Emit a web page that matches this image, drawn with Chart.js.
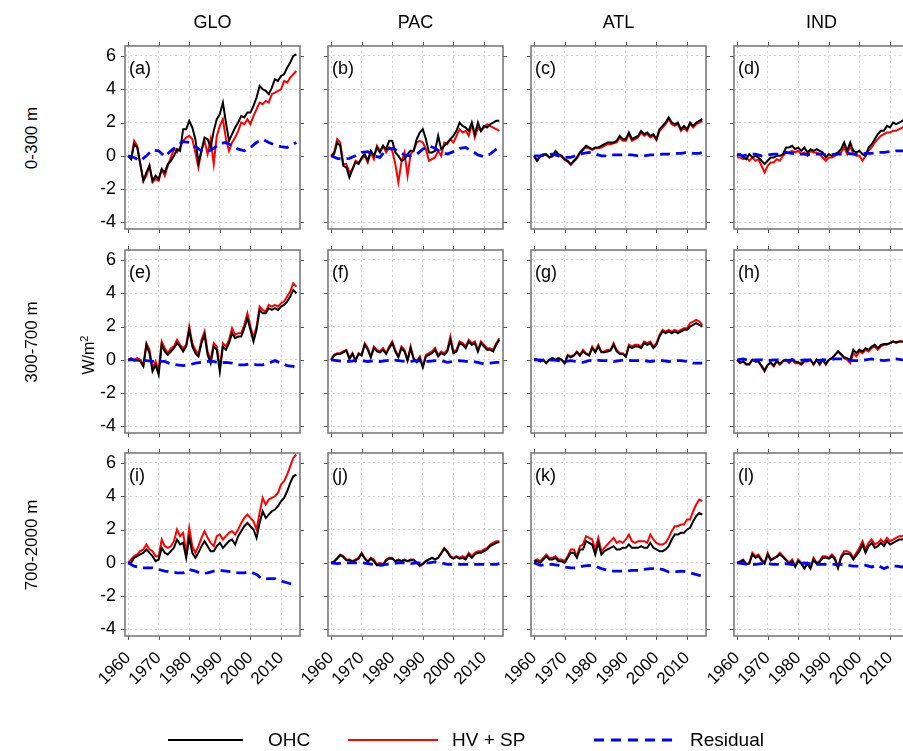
<!DOCTYPE html>
<html><head><meta charset="utf-8">
<script src="https://cdn.jsdelivr.net/npm/chart.js@4.4.1/dist/chart.umd.min.js"></script>
<style>
html,body{margin:0;padding:0;background:#fff;}
body{width:903px;height:751px;overflow:hidden;position:relative;font-family:"Liberation Sans",Arial,sans-serif;color:#000;}
.cv{position:absolute;}
.plab{position:absolute;font-size:18px;white-space:nowrap;line-height:22px;}
.rot{position:absolute;transform:translate(-50%,-50%) rotate(-90deg);font-size:17px;white-space:nowrap;}
.ttl{position:absolute;transform:translate(-50%,-50%);font-size:18px;white-space:nowrap;}
.leg{position:absolute;font-size:19px;white-space:nowrap;transform:translateY(-50%);}
svg{position:absolute;left:0;top:0;}
</style></head><body>
<script>
const YEARS = [1960,1961,1962,1963,1964,1965,1966,1967,1968,1969,1970,1971,1972,1973,1974,1975,1976,1977,1978,1979,1980,1981,1982,1983,1984,1985,1986,1987,1988,1989,1990,1991,1992,1993,1994,1995,1996,1997,1998,1999,2000,2001,2002,2003,2004,2005,2006,2007,2008,2009,2010,2011,2012,2013,2014,2015];
const RES_YEARS = [1960,1962,1964,1966,1968,1970,1972,1974,1976,1978,1980,1982,1984,1986,1988,1990,1992,1994,1996,1998,2000,2002,2004,2006,2008,2010,2012,2014,2015];
const X_TICKS = [1960,1970,1980,1990,2000,2010];
const Y_TICKS = [-4,-2,0,2,4,6];
const COLUMNS = ['GLO','PAC','ATL','IND'];
const ROWS = ['0-300 m','300-700 m','700-2000 m'];
const PANEL_LABELS = ['(a)','(b)','(c)','(d)','(e)','(f)','(g)','(h)','(i)','(j)','(k)','(l)'];
const LEGEND = ['OHC','HV + SP','Residual'];

// (a) GLO 0-300
const OHC_A = [0.0,-0.2,0.7,0.5,-0.5,-1.5,-1.0,-0.6,-1.5,-1.2,-1.4,-0.8,-1.0,-0.5,-0.3,0.0,0.4,0.3,1.6,1.6,2.1,1.7,1.0,-0.4,0.3,1.1,1.0,0.5,1.5,2.2,2.5,3.2,2.0,0.9,1.3,1.7,2.0,2.4,2.3,2.6,2.6,3.0,3.5,4.2,4.0,3.9,3.7,4.1,4.6,4.5,4.8,4.9,5.3,5.6,6.0,6.1];
const HVSP_A = [0.0,-0.2,0.9,0.6,-0.5,-1.5,-1.2,-0.6,-1.6,-1.4,-1.5,-0.8,-1.2,-0.6,-0.1,0.4,0.2,0.5,0.9,1.1,1.2,1.0,0.2,-0.7,0.3,0.9,0.1,1.0,-0.5,1.2,1.8,2.2,1.0,0.3,0.8,1.1,1.5,2.0,1.9,2.2,1.9,2.4,2.8,3.2,3.1,3.3,3.2,3.7,3.8,3.9,4.0,4.5,4.4,4.7,4.9,5.1];
const RES_A = [0,-0.1,-0.3,0.0,0.35,0.3,-0.05,0.3,0.6,0.85,0.8,0.55,0.3,0.25,0.45,0.75,0.8,0.6,0.4,0.3,0.5,0.8,1.0,0.8,0.65,0.55,0.5,0.7,0.8];
// (b) PAC 0-300
const OHC_B = [0.0,0.1,0.8,0.6,-0.6,-0.7,-1.3,-0.8,-0.4,-0.5,-0.1,0.1,-0.3,0.3,0.0,0.5,0.2,0.6,0.4,0.9,0.9,0.2,0.0,-0.3,-0.2,0.1,0.3,0.3,1.0,1.4,1.6,1.0,0.2,0.2,0.3,1.2,0.4,0.6,0.8,1.0,1.2,1.5,2.0,1.8,1.7,1.5,2.0,1.3,2.0,1.5,1.8,1.7,1.9,2.0,2.1,2.1];
const HVSP_B = [0.0,0.2,1.0,0.8,-0.5,-0.5,-1.0,-0.8,-0.3,-0.4,-0.2,0.0,-0.4,0.2,-0.2,0.6,0.3,0.6,0.2,0.5,0.3,-0.5,-1.6,-0.4,0.2,-1.2,0.1,0.3,0.8,0.9,0.8,0.4,-0.3,-0.2,-0.1,0.3,0.0,0.8,0.7,1.0,0.8,1.2,1.6,1.4,1.5,1.2,1.9,1.1,1.7,1.5,1.7,1.9,1.8,1.7,1.6,1.5];
const RES_B = [0,-0.15,-0.2,-0.15,0.0,0.2,0.25,0.0,-0.1,0.4,0.45,0.3,0.05,0.0,0.1,0.4,0.6,0.45,0.2,0.1,0.25,0.45,0.5,0.3,0.05,-0.05,0.1,0.4,0.5];
// (c) ATL 0-300
const OHC_C = [0.0,-0.3,0.0,0.1,0.1,-0.1,0.0,0.3,0.1,0.0,-0.2,-0.3,-0.5,-0.3,-0.1,0.2,0.4,0.6,0.5,0.4,0.5,0.5,0.6,0.7,0.8,0.8,0.8,0.9,1.2,1.0,1.0,1.4,1.0,1.1,1.2,1.5,1.3,1.4,1.2,1.3,1.0,1.6,1.8,2.0,2.3,2.0,1.9,2.0,1.6,1.8,1.6,2.0,1.8,2.0,2.1,2.2];
const HVSP_C = [-0.05,-0.3,-0.05,0.05,0.05,-0.1,-0.05,0.2,0.05,-0.05,-0.25,-0.35,-0.55,-0.35,-0.15,0.15,0.35,0.5,0.45,0.35,0.45,0.45,0.5,0.6,0.7,0.7,0.75,0.8,1.1,0.9,0.9,1.3,0.9,1.0,1.1,1.4,1.2,1.3,1.1,1.2,0.95,1.5,1.7,1.9,2.2,1.9,1.8,1.9,1.5,1.7,1.5,1.9,1.7,1.9,2.0,2.1];
const RES_C = [0,0.0,0.05,0.1,0.0,-0.1,-0.1,0.05,0.15,0.2,0.1,0.0,0.0,0.05,0.05,0.05,0.05,0.0,0.0,0.05,0.05,0.1,0.1,0.15,0.15,0.2,0.15,0.15,0.2];
// (d) IND 0-300
const OHC_D = [0.0,0.1,-0.1,-0.2,0.1,-0.1,0.0,-0.1,-0.3,-0.5,-0.3,-0.1,-0.1,0.0,0.0,0.1,0.5,0.5,0.6,0.4,0.5,0.3,0.5,0.2,0.4,0.3,0.4,0.3,0.2,-0.1,0.1,0.0,0.1,0.2,0.4,0.8,0.3,0.8,0.3,0.2,0.3,0.1,0.0,0.5,0.7,1.0,1.3,1.5,1.5,1.8,1.7,2.0,1.9,2.0,2.1,2.2];
const HVSP_D = [-0.1,-0.1,-0.2,-0.1,-0.3,-0.1,-0.3,-0.2,-0.6,-1.0,-0.6,-0.4,-0.4,-0.2,-0.3,0.0,0.2,0.2,0.3,0.2,0.3,0.1,0.2,0.0,0.3,0.2,0.2,0.1,-0.1,-0.3,-0.1,-0.1,0.0,0.1,0.2,0.5,0.1,0.6,0.1,0.0,0.0,-0.3,0.0,0.3,0.5,0.8,1.0,1.2,1.3,1.4,1.4,1.5,1.5,1.6,1.7,1.8];
const RES_D = [0.1,0.0,0.1,0.1,0.0,0.05,0.1,0.1,0.2,0.15,0.1,0.1,0.05,0.1,0.1,0.05,0.1,0.1,0.15,0.1,0.1,0.15,0.15,0.2,0.2,0.25,0.3,0.3,0.3];
// (e) GLO 300-700
const OHC_E = [0.0,0.05,-0.05,0.0,-0.1,-0.4,0.9,0.4,-0.7,-0.3,-0.9,0.9,0.5,0.3,0.5,0.7,1.0,0.8,0.5,0.8,1.8,0.8,0.4,0.2,1.0,1.5,0.3,-0.2,0.8,0.6,-0.7,0.8,0.6,1.0,1.6,1.3,1.4,1.4,1.9,2.5,1.8,1.1,1.8,3.0,2.8,2.8,3.1,3.0,3.1,3.0,3.2,3.3,3.5,3.8,4.2,4.0];
const HVSP_E = [0.0,0.1,0.0,0.1,0.0,-0.3,1.0,0.6,-0.5,-0.1,-0.6,1.1,0.7,0.4,0.7,0.8,1.2,0.9,0.7,0.9,2.0,1.0,0.6,0.3,1.2,1.7,0.5,0.0,1.0,0.8,-0.5,1.0,0.8,1.2,1.9,1.5,1.6,1.6,2.1,2.8,2.0,1.3,2.0,3.2,3.0,2.9,3.3,3.2,3.3,3.2,3.4,3.5,3.8,4.1,4.6,4.4];
const RES_E = [0,0.0,-0.05,-0.05,-0.1,-0.1,-0.1,-0.25,-0.3,-0.35,-0.3,-0.2,-0.15,-0.1,-0.1,-0.2,-0.15,-0.2,-0.3,-0.3,-0.25,-0.3,-0.3,-0.2,-0.05,-0.2,-0.35,-0.4,-0.45];
// (f) PAC 300-700
const OHC_F = [0.0,0.25,0.35,0.35,0.45,0.55,0.05,0.35,-0.05,0.35,0.25,0.9,0.6,0.15,0.7,0.5,0.45,0.6,0.35,0.7,1.0,0.5,0.15,0.7,0.5,-0.05,0.7,0.05,-0.15,0.1,-0.45,0.2,0.3,0.4,0.6,0.2,0.4,0.3,0.5,1.2,0.4,0.5,1.0,0.9,0.7,1.1,0.9,1.0,0.5,1.0,0.8,0.6,0.6,0.5,0.9,1.2];
const HVSP_F = [0.0,0.3,0.4,0.4,0.5,0.6,0.1,0.4,0.0,0.4,0.3,1.0,0.7,0.2,0.8,0.6,0.5,0.7,0.4,0.8,1.1,0.6,0.2,0.8,0.6,0.0,0.8,0.1,-0.1,0.2,-0.4,0.3,0.4,0.5,0.7,0.3,0.5,0.4,0.6,1.4,0.5,0.6,1.1,1.0,0.8,1.2,1.0,1.1,0.6,1.1,0.9,0.7,0.7,0.6,1.0,1.3];
const RES_F = [0,-0.05,-0.1,-0.1,-0.05,-0.05,-0.1,-0.05,-0.1,-0.05,0.0,-0.05,-0.1,-0.1,-0.05,-0.1,-0.1,-0.05,-0.05,-0.15,-0.1,-0.05,-0.1,-0.1,-0.15,-0.25,-0.2,-0.15,-0.15];
// (g) ATL 300-700
const OHC_G = [0.05,0.0,-0.1,0.0,-0.2,0.0,0.1,0.0,0.1,0.0,-0.2,0.25,0.15,0.25,0.45,0.25,0.5,0.35,0.25,0.7,0.45,0.8,0.45,0.45,0.5,0.55,0.9,0.5,0.35,0.35,0.2,0.8,0.7,0.8,0.8,0.7,1.0,0.9,1.0,0.7,0.9,1.4,1.7,1.6,1.7,1.6,1.7,1.6,1.7,1.8,1.8,2.0,2.1,2.2,2.1,2.0];
const HVSP_G = [0.05,0.0,-0.1,0.0,-0.2,0.0,0.1,0.0,0.1,0.0,-0.2,0.3,0.2,0.3,0.5,0.3,0.6,0.4,0.3,0.8,0.5,0.9,0.5,0.5,0.6,0.6,1.0,0.6,0.4,0.4,0.2,0.9,0.8,0.9,0.9,0.8,1.1,1.0,1.1,0.8,1.0,1.5,1.8,1.7,1.8,1.7,1.8,1.7,1.8,1.9,1.9,2.2,2.3,2.4,2.3,2.1];
const RES_G = [0,0.0,-0.05,0.0,-0.05,-0.1,-0.05,-0.1,-0.15,-0.05,0.0,-0.05,-0.05,-0.1,-0.05,0.0,-0.05,-0.05,-0.05,-0.1,-0.05,-0.05,-0.1,-0.05,-0.05,-0.1,-0.2,-0.2,-0.2];
// (h) IND 300-700
const OHC_H = [0.0,-0.15,-0.1,-0.25,-0.25,0.0,-0.1,-0.1,-0.35,-0.65,-0.3,-0.15,-0.35,-0.05,-0.25,-0.05,0.0,-0.1,0.05,-0.1,-0.15,-0.25,-0.05,-0.05,0.0,-0.25,0.0,-0.25,0.0,-0.25,0.0,0.1,0.3,0.5,0.35,0.15,0.1,0.0,0.6,0.4,0.6,0.5,0.7,0.6,0.8,0.9,0.7,0.9,0.95,0.95,1.0,1.1,1.05,1.1,1.1,1.1];
const HVSP_H = [0.0,-0.2,-0.1,-0.3,-0.3,0.0,-0.1,-0.1,-0.4,-0.7,-0.3,-0.2,-0.4,-0.1,-0.3,-0.1,0.0,-0.2,0.0,-0.2,-0.2,-0.3,-0.1,-0.1,0.0,-0.3,0.0,-0.3,0.0,-0.3,0.0,0.1,0.3,0.5,0.3,0.1,0.0,-0.2,0.4,0.2,0.5,0.4,0.6,0.5,0.7,0.8,0.6,0.8,0.9,0.9,1.0,1.1,1.0,1.1,1.1,1.1];
const RES_H = [0.0,0.05,-0.05,0.0,0.0,-0.05,0.0,0.0,-0.05,0.0,-0.05,0.0,0.0,-0.05,0.0,0.0,0.05,0.05,0.0,-0.05,-0.05,0.0,0.05,0.0,-0.05,0.0,0.05,0.0,0.0];
// (i) GLO 700-2000
const OHC_I = [0.0,0.0,0.3,0.4,0.5,0.6,0.8,0.6,0.4,0.1,0.2,0.9,0.6,0.5,0.7,0.9,1.4,1.1,1.2,0.3,1.5,0.6,0.3,0.6,1.0,1.3,1.0,0.7,0.7,1.0,1.2,0.9,1.1,1.3,1.4,1.1,1.6,1.9,2.2,2.4,2.2,2.0,1.5,2.4,3.1,2.7,2.9,3.1,3.2,3.4,3.7,3.9,4.3,4.8,5.2,5.3];
const HVSP_I = [0.0,0.2,0.4,0.5,0.7,0.8,1.1,0.8,0.7,0.4,0.4,1.4,1.0,0.9,1.0,1.3,2.0,1.6,1.8,0.6,2.1,1.0,0.6,1.0,1.5,1.9,1.5,1.2,1.0,1.6,1.7,1.4,1.6,1.8,1.9,1.7,2.0,2.4,2.7,2.9,2.7,2.5,2.0,3.0,3.9,3.5,3.8,3.9,4.0,4.2,4.7,4.9,5.3,5.8,6.3,6.5];
const RES_I = [0,-0.2,-0.3,-0.3,-0.3,-0.4,-0.5,-0.55,-0.6,-0.6,-0.4,-0.5,-0.65,-0.6,-0.5,-0.45,-0.5,-0.55,-0.6,-0.6,-0.55,-0.7,-1.0,-0.95,-0.95,-1.1,-1.2,-1.3,-1.35];
// (j) PAC 700-2000
const OHC_J = [0.0,0.05,0.25,0.45,0.35,0.15,0.15,0.05,0.15,0.25,0.55,0.25,0.05,0.25,0.1,-0.15,-0.1,-0.15,0.15,0.25,0.25,0.1,0.15,0.1,0.15,0.1,0.15,0.15,0.0,-0.15,-0.05,0.1,0.2,0.3,0.2,0.3,0.55,0.85,0.65,0.35,0.25,0.35,0.25,0.3,0.2,0.5,0.3,0.5,0.6,0.6,0.7,0.8,1.0,1.1,1.2,1.25];
const HVSP_J = [0.0,0.1,0.3,0.5,0.4,0.2,0.2,0.1,0.2,0.3,0.6,0.3,0.1,0.3,0.2,-0.1,0.0,-0.1,0.2,0.3,0.3,0.1,0.2,0.1,0.2,0.1,0.2,0.2,0.0,-0.2,-0.1,0.1,0.2,0.3,0.2,0.3,0.6,0.9,0.7,0.4,0.3,0.4,0.3,0.4,0.3,0.6,0.4,0.6,0.7,0.7,0.8,0.9,1.1,1.2,1.3,1.3];
const RES_J = [0,-0.05,0.0,0.0,0.0,0.0,-0.05,-0.1,-0.15,-0.1,-0.05,0.0,0.0,-0.05,0.0,0.0,0.0,0.05,0.0,-0.1,-0.1,-0.1,-0.1,-0.1,-0.1,-0.1,-0.1,-0.1,-0.05];
// (k) ATL 700-2000
const OHC_K = [0.1,0.1,0.0,0.2,0.4,0.2,0.2,0.3,0.1,0.1,0.0,0.3,0.6,0.6,0.3,0.8,0.8,1.3,1.2,1.1,0.5,1.2,0.5,0.7,0.8,0.9,1.0,0.8,0.8,0.9,0.9,1.1,0.9,0.9,0.9,1.0,0.9,0.9,1.2,0.9,0.8,0.7,0.7,0.8,1.0,1.4,1.7,1.7,1.8,1.8,2.0,2.1,2.5,2.8,3.0,2.9];
const HVSP_K = [0.1,0.2,0.1,0.3,0.5,0.3,0.3,0.4,0.2,0.2,0.1,0.4,0.8,0.8,0.4,1.0,1.1,1.6,1.5,1.4,0.8,1.5,0.7,0.9,1.1,1.3,1.5,1.2,1.3,1.2,1.4,1.7,1.3,1.2,1.3,1.3,1.3,1.2,1.7,1.4,1.2,1.1,1.1,1.2,1.5,1.9,2.2,2.2,2.3,2.3,2.6,2.6,3.1,3.5,3.8,3.7];
const RES_K = [0,-0.15,-0.1,-0.1,-0.15,-0.25,-0.3,-0.3,-0.2,-0.15,-0.2,-0.35,-0.45,-0.5,-0.5,-0.5,-0.45,-0.45,-0.4,-0.35,-0.35,-0.4,-0.55,-0.55,-0.5,-0.55,-0.65,-0.75,-0.8];
// (l) IND 700-2000
const OHC_L = [0.0,0.05,0.15,-0.1,-0.05,0.5,0.3,0.4,0.15,-0.05,0.5,0.15,0.25,0.35,0.5,0.35,0.15,-0.05,0.1,-0.25,0.1,-0.05,-0.35,-0.05,-0.35,0.2,-0.05,0.05,0.3,0.3,0.25,0.4,0.2,-0.3,0.3,0.55,0.55,0.5,0.2,0.45,0.7,1.1,0.6,1.0,1.2,0.9,1.0,1.2,1.0,1.3,1.1,1.2,1.3,1.4,1.4,1.5];
const HVSP_L = [0.0,0.1,0.2,-0.1,0.0,0.6,0.4,0.5,0.2,0.0,0.6,0.2,0.3,0.4,0.6,0.4,0.2,0.0,0.2,-0.2,0.2,0.0,-0.3,0.0,-0.3,0.3,0.0,0.1,0.4,0.4,0.3,0.5,0.3,-0.3,0.4,0.7,0.7,0.6,0.3,0.6,0.9,1.3,0.8,1.2,1.4,1.1,1.2,1.4,1.2,1.5,1.3,1.4,1.5,1.6,1.6,1.7];
const RES_L = [0,-0.05,-0.1,-0.1,-0.05,-0.05,-0.1,-0.1,-0.05,-0.1,-0.05,0.0,-0.05,-0.1,-0.1,-0.1,-0.1,-0.1,-0.15,-0.2,-0.2,-0.15,-0.25,-0.15,-0.35,-0.2,-0.2,-0.25,-0.2];

const PANELS = [
  [OHC_A,HVSP_A,RES_A],[OHC_B,HVSP_B,RES_B],[OHC_C,HVSP_C,RES_C],[OHC_D,HVSP_D,RES_D],
  [OHC_E,HVSP_E,RES_E],[OHC_F,HVSP_F,RES_F],[OHC_G,HVSP_G,RES_G],[OHC_H,HVSP_H,RES_H],
  [OHC_I,HVSP_I,RES_I],[OHC_J,HVSP_J,RES_J],[OHC_K,HVSP_K,RES_K],[OHC_L,HVSP_L,RES_L]
];

// layout
const COL_LEFT = [125,328,531,734];
const ROW_TOP = [46,250,453];
const PW = 175, PH = 183;
const ML = 60, MT = 10, MR = 10, MB = 72;
const FONT = '"Liberation Sans", Arial, sans-serif';
const C_OHC = '#000000', C_HV = '#ff0000', C_RES = '#0000ff';

const framePlugin = {
  id: 'frame',
  afterDraw(chart) {
    const {ctx, chartArea: a, scales} = chart;
    const x = scales.x, y = scales.y;
    ctx.save();
    ctx.strokeStyle = '#555';
    ctx.lineWidth = 1;
    ctx.beginPath();
    X_TICKS.forEach(v => {
      const px = Math.round(x.getPixelForValue(v)) + 0.5;
      ctx.moveTo(px, a.bottom); ctx.lineTo(px, a.bottom + 4);
      ctx.moveTo(px, a.top); ctx.lineTo(px, a.top - 4);
    });
    Y_TICKS.forEach(v => {
      const py = Math.round(y.getPixelForValue(v)) + 0.5;
      ctx.moveTo(a.left, py); ctx.lineTo(a.left - 4, py);
      ctx.moveTo(a.right, py); ctx.lineTo(a.right + 4, py);
    });
    ctx.stroke();
    ctx.strokeStyle = '#7a7a7a';
    ctx.lineWidth = 1.6;
    ctx.strokeRect(a.left, a.top, a.right - a.left, a.bottom - a.top);
    ctx.restore();
  }
};

function makePanel(r, c) {
  const idx = r * 4 + c;
  const [ohc, hv, res] = PANELS[idx];
  const cv = document.createElement('canvas');
  const w = PW + ML + MR, h = PH + MT + MB;
  cv.width = w; cv.height = h;
  cv.className = 'cv';
  cv.style.left = (COL_LEFT[c] - ML) + 'px';
  cv.style.top = (ROW_TOP[r] - MT) + 'px';
  cv.style.width = w + 'px'; cv.style.height = h + 'px';
  document.body.appendChild(cv);
  new Chart(cv, {
    type: 'line',
    data: {
      datasets: [
        {label: LEGEND[2], data: RES_YEARS.map((x, i) => ({x, y: res[i]})), borderColor: C_RES, borderWidth: 2.8, borderDash: [10, 6], pointRadius: 0, fill: false, tension: 0},
        {label: LEGEND[0], data: YEARS.map((x, i) => ({x, y: ohc[i]})), borderColor: C_OHC, borderWidth: 2, pointRadius: 0, fill: false, tension: 0},
        {label: LEGEND[1], data: YEARS.map((x, i) => ({x, y: hv[i]})), borderColor: C_HV, borderWidth: 2, pointRadius: 0, fill: false, tension: 0}
      ]
    },
    options: {
      responsive: false, animation: false, events: [],
      layout: {padding: {left: 0, top: MT, right: MR, bottom: 0}},
      plugins: {legend: {display: false}, tooltip: {enabled: false}},
      scales: {
        x: {
          type: 'linear', min: 1959, max: 2016.2,
          afterBuildTicks: s => { s.ticks = X_TICKS.map(v => ({value: v})); },
          afterFit: s => { s.height = MB; s.paddingLeft = 0; s.paddingRight = 0; },
          grid: {color: '#d2d2d2', lineWidth: 1, drawTicks: false},
          border: {display: false, dash: [2, 3]},
          ticks: {display: r === 2, autoSkip: false, maxRotation: 45, minRotation: 45, padding: 12, color: '#000', font: {size: 17, family: FONT}, callback: v => String(v)}
        },
        y: {
          type: 'linear', min: -4.4, max: 6.6,
          afterBuildTicks: s => { s.ticks = Y_TICKS.map(v => ({value: v})); },
          afterFit: s => { s.width = ML; s.paddingTop = 0; s.paddingBottom = 0; },
          grid: {color: '#d2d2d2', lineWidth: 1, drawTicks: false},
          border: {display: false, dash: [2, 3]},
          ticks: {display: c === 0, padding: 9, color: '#000', font: {size: 18, family: FONT}, callback: v => String(v)}
        }
      }
    },
    plugins: [framePlugin]
  });
  const lab = document.createElement('div');
  lab.className = 'plab';
  lab.textContent = PANEL_LABELS[idx];
  lab.style.left = (COL_LEFT[c] + 4) + 'px';
  lab.style.top = (ROW_TOP[r] + 11) + 'px';
  document.body.appendChild(lab);
}

for (let r = 0; r < 3; r++) for (let c = 0; c < 4; c++) makePanel(r, c);

COLUMNS.forEach((t, c) => {
  const d = document.createElement('div');
  d.className = 'ttl'; d.textContent = t;
  d.style.left = (COL_LEFT[c] + PW / 2) + 'px'; d.style.top = '22px';
  document.body.appendChild(d);
});
ROWS.forEach((t, r) => {
  const d = document.createElement('div');
  d.className = 'rot'; d.textContent = t;
  d.style.left = '32px'; d.style.top = (ROW_TOP[r] + PH / 2) + 'px';
  document.body.appendChild(d);
});
const unit = document.createElement('div');
unit.className = 'rot';
unit.innerHTML = 'W/m<sup style="font-size:11px">2</sup>';
unit.style.left = '88px'; unit.style.top = '355px'; unit.style.fontSize = '16px';
document.body.appendChild(unit);

// legend
const LEG_Y = 740;
const svgNS = 'http://www.w3.org/2000/svg';
const svg = document.createElementNS(svgNS, 'svg');
svg.setAttribute('width', '903'); svg.setAttribute('height', '751');
document.body.appendChild(svg);
const legItems = [
  {x1: 168, x2: 243, tx: 268, color: C_OHC, dash: null, w: 2.2},
  {x1: 348, x2: 438, tx: 452, color: C_HV, dash: null, w: 2.2},
  {x1: 594, x2: 674, tx: 690, color: C_RES, dash: '10 7', w: 2.8}
];
legItems.forEach((it, i) => {
  const ln = document.createElementNS(svgNS, 'line');
  ln.setAttribute('x1', it.x1); ln.setAttribute('x2', it.x2);
  ln.setAttribute('y1', LEG_Y); ln.setAttribute('y2', LEG_Y);
  ln.setAttribute('stroke', it.color); ln.setAttribute('stroke-width', it.w);
  if (it.dash) ln.setAttribute('stroke-dasharray', it.dash);
  svg.appendChild(ln);
  const t = document.createElement('div');
  t.className = 'leg'; t.textContent = LEGEND[i];
  t.style.left = it.tx + 'px'; t.style.top = LEG_Y + 'px';
  document.body.appendChild(t);
});
</script>
</body></html>
